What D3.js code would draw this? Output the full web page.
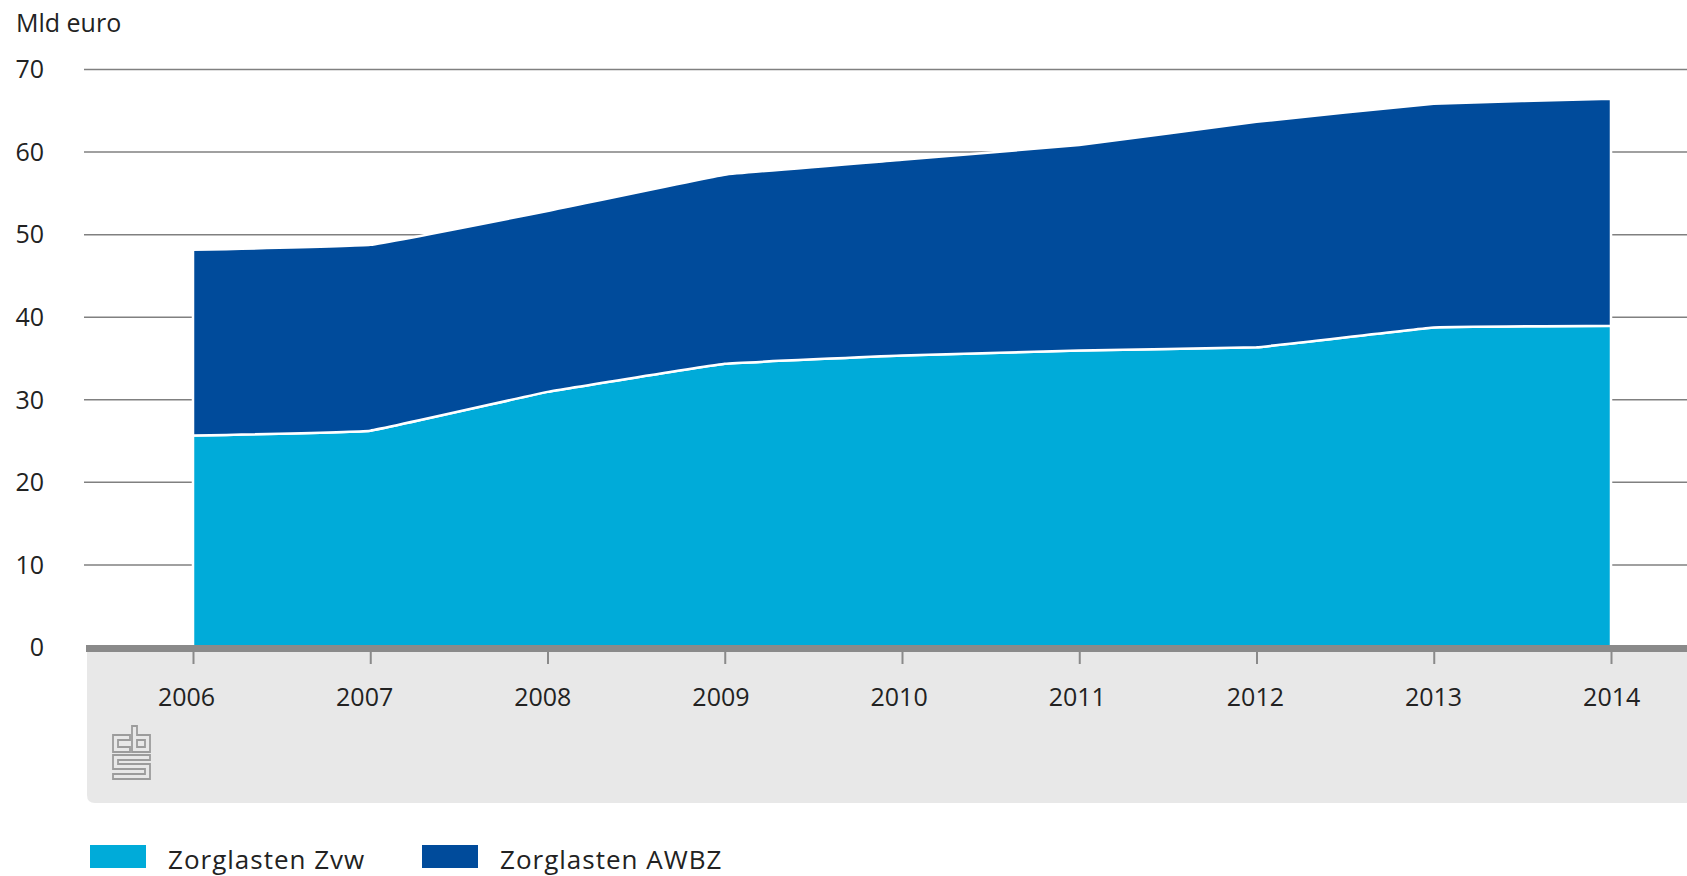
<!DOCTYPE html>
<html>
<head>
<meta charset="utf-8">
<script src="https://cdn.jsdelivr.net/npm/d3@7"></script>
<style>
  body { margin: 0; background: #fff; }
  text { font-family: "Open Sans", "Noto Sans", sans-serif; fill: #222; }
</style>
</head>
<body>
<svg class="chart" width="1687" height="876"></svg>
<script>
// data (mld euro)
const years = [2006, 2007, 2008, 2009, 2010, 2011, 2012, 2013, 2014];
const zvw = [25.6, 26.2, 30.9, 34.3, 35.3, 35.9, 36.3, 38.7, 38.9];
const awbz = [22.5, 22.5, 21.9, 22.9, 23.7, 24.9, 27.3, 27.1, 27.5];
const yTicks = [0, 10, 20, 30, 40, 50, 60, 70];
const seriesNames = ["Zorglasten Zvw", "Zorglasten AWBZ"];
const colors = ["#00abd9", "#004b9b"];

const W = 1687;
const svg = d3.select(".chart");

const xScale = d3.scaleLinear().domain([2006, 2014]).range([193, 1611]);
const yScale = d3.scaleLinear().domain([0, 70]).range([647, 69]);

// grey panel under the axis
svg.append("path")
  .attr("d", `M87,652 H${W} V803 H95 Q87,803 87,795 Z`)
  .attr("fill", "#e8e8e8");

// gridlines
const grid = svg.append("g")
  .attr("transform", "translate(84,0)")
  .call(d3.axisRight(yScale).tickValues(yTicks.slice(1)).tickSize(W - 84).tickFormat(""));
grid.select(".domain").remove();
grid.selectAll("line").attr("stroke", "#808080").attr("stroke-width", 1.5);

// y labels
const yAxis = svg.append("g")
  .attr("transform", "translate(44,0)")
  .call(d3.axisLeft(yScale).tickValues(yTicks).tickSize(0).tickPadding(0));
yAxis.select(".domain").remove();
yAxis.selectAll("text")
  .style("font-size", "25px")
  .attr("dy", "0.35em")
  .attr("fill", "#222");

svg.append("text")
  .attr("x", 16)
  .attr("y", 32)
  .style("font-size", "25px")
  .text("Mld euro");

// stacked areas
const rows = years.map((y, i) => ({ year: y, zvw: zvw[i], awbz: awbz[i] }));
const stacked = d3.stack().keys(["zvw", "awbz"])(rows);

const area = d3.area()
  .x(d => xScale(d.data.year))
  .y0(d => yScale(d[0]))
  .y1(d => yScale(d[1]))
  .curve(d3.curveCardinal.tension(0.8));

svg.selectAll(".layer")
  .data(stacked)
  .enter()
  .append("path")
  .attr("class", "layer")
  .attr("d", area)
  .attr("fill", (d, i) => colors[i])
  .attr("stroke", "#fff")
  .attr("stroke-width", 2.5)
  .attr("stroke-linejoin", "round");

// thick baseline
svg.append("line")
  .attr("x1", 86)
  .attr("x2", W)
  .attr("y1", yScale(0) + 1.5)
  .attr("y2", yScale(0) + 1.5)
  .attr("stroke", "#8a8a8a")
  .attr("stroke-width", 7);

// x axis
const xAxis = svg.append("g")
  .attr("transform", "translate(0,652)")
  .call(d3.axisBottom(xScale).tickValues(years).tickFormat(d3.format("d")).tickSize(12).tickPadding(24));
xAxis.select(".domain").remove();
xAxis.selectAll("line").attr("stroke", "#8a8a8a").attr("stroke-width", 2);
xAxis.selectAll("text")
  .style("font-size", "25px")
  .attr("fill", "#222")
  .attr("dx", (d, i) => -7 + i * 0.9);

// cbs logo (simplified outline)
const logo = svg.append("g")
  .attr("fill", "none")
  .attr("stroke", "#9c9c9c")
  .attr("stroke-width", 1.8);
logo.append("path").attr("d", "M130,735 H113 V752 H130 V747 H118 V740 H130 Z");
logo.append("path").attr("d", "M132,726 H137 V735 H150 V752 H132 Z M137,740 V747 H145 V740 Z");
logo.append("path").attr("d",
  "M113,755 H150 V760 H118 V764 H150 V779 H113 V774 H145 V769 H113 Z");

// legend
const legend = svg.selectAll(".legend")
  .data(seriesNames)
  .enter()
  .append("g")
  .attr("class", "legend")
  .attr("transform", (d, i) => `translate(${[90, 422][i]},845)`);

legend.append("rect")
  .attr("width", 56)
  .attr("height", 23)
  .attr("fill", (d, i) => colors[i]);

legend.append("text")
  .attr("x", 78)
  .attr("y", 24)
  .style("font-size", "26px")
  .style("letter-spacing", "1px")
  .attr("fill", "#333")
  .text(d => d);
</script>
</body>
</html>
